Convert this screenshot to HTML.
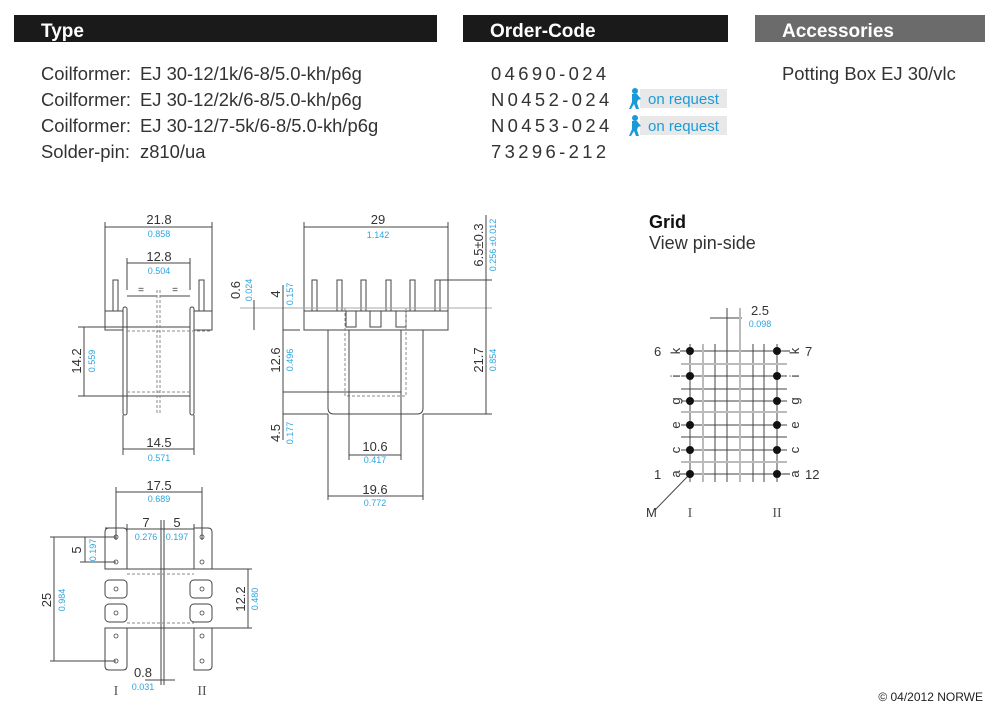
<!DOCTYPE html>
<html><head><meta charset="utf-8"><style>
body{margin:0;background:#fff;width:1000px;height:721px;overflow:hidden;font-family:"Liberation Sans",sans-serif}
svg{position:absolute;left:0;top:0}
</style></head><body>
<svg width="1000" height="721" viewBox="0 0 1000 721" font-family="Liberation Sans, sans-serif">
<rect x="14" y="15" width="423" height="27" fill="#1a1a1a"/>
<rect x="463" y="15" width="265" height="27" fill="#1a1a1a"/>
<rect x="755" y="15" width="230" height="27" fill="#6b6b6b"/>
<g fill="#fff" font-weight="bold" font-size="19">
<text x="41" y="37">Type</text><text x="490" y="37">Order-Code</text><text x="782" y="37">Accessories</text></g>
<g fill="#333" font-size="18.4">
<text x="41" y="80">Coilformer:</text><text x="140" y="80">EJ 30-12/1k/6-8/5.0-kh/p6g</text>
<text x="41" y="106">Coilformer:</text><text x="140" y="106">EJ 30-12/2k/6-8/5.0-kh/p6g</text>
<text x="41" y="132">Coilformer:</text><text x="140" y="132">EJ 30-12/7-5k/6-8/5.0-kh/p6g</text>
<text x="41" y="158">Solder-pin:</text><text x="140" y="158">z810/ua</text>
<g letter-spacing="3.4"><text x="491" y="80">04690-024</text><text x="491" y="106">N0452-024</text><text x="491" y="132">N0453-024</text><text x="491" y="158">73296-212</text></g>
<text x="782" y="80">Potting Box EJ 30/vlc</text>
</g>
<g>
<rect x="640" y="89" width="87" height="19" fill="#e8e8e8"/><text x="648" y="104" font-size="15" fill="#1a9bd7">on request</text>
<rect x="640" y="116" width="87" height="19" fill="#e8e8e8"/><text x="648" y="131" font-size="15" fill="#1a9bd7">on request</text>
<g fill="#1a9bd7"><circle cx="635" cy="91" r="3"/><path d="M632 94h5l4 5-3 1-1 3 2 6h-3l-2-5-3 5h-2l3-7z"/>
<circle cx="635" cy="118" r="3"/><path d="M632 121h5l4 5-3 1-1 3 2 6h-3l-2-5-3 5h-2l3-7z"/></g>
</g>
<text x="649" y="228" font-size="18" font-weight="bold" fill="#111">Grid</text>
<text x="649" y="249" font-size="18" fill="#333">View pin-side</text>
<text x="983" y="701" font-size="12" fill="#222" text-anchor="end">© 04/2012 NORWE</text>

<g stroke="#444" stroke-width="1" fill="none">
<path d="M105 222V311M212 222V311M105 227H212M127 258V290M190 258V290M127 263H190"/>
<path d="M127 296H157M160 296H190"/>
<rect x="113" y="280" width="5" height="31"/><rect x="199" y="280" width="5" height="31"/>
<rect x="105" y="311" width="18" height="19"/><rect x="194" y="311" width="18" height="19"/>
<rect x="123" y="307" width="4" height="108" rx="2"/><rect x="190" y="307" width="4" height="108" rx="2"/>
<path d="M78 327H190M78 396H190M127 327V396M123 415V455M194 415V455M123 449H194M84 327V396"/>
<path d="M127 331H212M127 392H190M157 290V415M160 290V415" stroke-dasharray="3 2" stroke="#888"/>
<path d="M304 222V311M448 222V311M304 227H448"/>
<rect x="312" y="280" width="5" height="31"/><rect x="337" y="280" width="5" height="31"/><rect x="361" y="280" width="5" height="31"/><rect x="386" y="280" width="5" height="31"/><rect x="410" y="280" width="5" height="31"/><rect x="435" y="280" width="5" height="31"/>
<path d="M304 311H448V330H304Z"/>
<path d="M346 311V327H356V311M370 311V327H381V311M396 311V327H406V311"/>
<path d="M328 330V408Q328 414 334 414H417Q423 414 423 408V330M349 330V392H401V330"/>
<path d="M345 308H406V396H345Z" stroke-dasharray="3 2" stroke="#888"/>
<path d="M240 308H492" stroke="#aaa"/>
<path d="M437 280H492M283 330H300M283 392H349M283 414H328M423 414H492M486 215V414M283 285V440"/>
<path d="M349 392V460M401 392V460M349 455H401M328 414V500M423 414V500M328 496H423M254 300V330"/>
<path d="M116 487V540M202 487V540M116 492H202"/>
<path d="M105 528H123Q127 528 127 532V569H105V532Q105 528 109 528Z"/>
<path d="M105 628H127V666Q127 670 123 670H109Q105 670 105 666Z"/>
<rect x="105" y="580" width="22" height="18" rx="4"/><rect x="105" y="604" width="22" height="18" rx="4"/>
<path d="M194 528H208Q212 528 212 532V569H194Z"/>
<path d="M194 628H212V666Q212 670 208 670H194Z"/>
<rect x="190" y="580" width="22" height="18" rx="4"/><rect x="190" y="604" width="22" height="18" rx="4"/>
<path d="M127 540V560M194 540V560M127 636V648M194 636V648"/>
<path d="M127 569H252M127 628H252M161 520V685M164 520V685M127 524V534M194 524V534M127 529H194"/>
<path d="M127 574H194M127 623H194" stroke-dasharray="3 2" stroke="#888"/>
<path d="M50 537H116M50 661H116M54 537V661M80 562H116M85 537V562M248 569V628M145 680H175"/>
<g stroke-width="0.8"><circle cx="116" cy="537" r="2"/><circle cx="116" cy="562" r="2"/><circle cx="116" cy="589" r="2"/><circle cx="116" cy="613" r="2"/><circle cx="116" cy="636" r="2"/><circle cx="116" cy="661" r="2"/>
<circle cx="202" cy="537" r="2"/><circle cx="202" cy="562" r="2"/><circle cx="202" cy="589" r="2"/><circle cx="202" cy="613" r="2"/><circle cx="202" cy="636" r="2"/><circle cx="202" cy="661" r="2"/></g>
<path d="M681 351H787M681 376H787M681 389H787M681 401H787M681 425H787M681 437H787M681 450H787M681 474H787M690 344V482M715 344V482M727 308V482M753 344V482M764 344V482M777 344V482M710 318H742M690 474L655 510"/>
<path d="M703 344V482M740 308V482M681 364H787M681 412H787M681 462H787" stroke="#bbb" stroke-width="2"/>
</g>
<g fill="#111"><circle cx="690" cy="351" r="4"/><circle cx="690" cy="376" r="4"/><circle cx="690" cy="401" r="4"/><circle cx="690" cy="425" r="4"/><circle cx="690" cy="450" r="4"/><circle cx="690" cy="474" r="4"/>
<circle cx="777" cy="351" r="4"/><circle cx="777" cy="376" r="4"/><circle cx="777" cy="401" r="4"/><circle cx="777" cy="425" r="4"/><circle cx="777" cy="450" r="4"/><circle cx="777" cy="474" r="4"/></g>
<g font-size="13" fill="#333" text-anchor="middle">
<text x="159" y="224">21.8</text><text x="159" y="261">12.8</text><text x="159" y="447">14.5</text>
<text x="378" y="224">29</text><text x="375" y="451">10.6</text><text x="375" y="494">19.6</text>
<text x="159" y="490">17.5</text><text x="146" y="527">7</text><text x="177" y="527">5</text><text x="143" y="677">0.8</text>
<text x="760" y="315">2.5</text>
<text x="141" y="293" font-size="10">=</text><text x="175" y="293" font-size="10">=</text>
<text transform="translate(81,361) rotate(-90)">14.2</text>
<text transform="translate(240,290) rotate(-90)">0.6</text>
<text transform="translate(280,294) rotate(-90)">4</text>
<text transform="translate(280,360) rotate(-90)">12.6</text>
<text transform="translate(280,433) rotate(-90)">4.5</text>
<text transform="translate(483,360) rotate(-90)">21.7</text>
<text transform="translate(483,245) rotate(-90)">6.5±0.3</text>
<text transform="translate(51,600) rotate(-90)">25</text>
<text transform="translate(81,550) rotate(-90)">5</text>
<text transform="translate(245,599) rotate(-90)">12.2</text>
</g>
<g font-size="9" fill="#2aa6e0" text-anchor="middle">
<text x="159" y="237">0.858</text><text x="159" y="274">0.504</text><text x="159" y="461">0.571</text>
<text x="378" y="238">1.142</text><text x="375" y="463">0.417</text><text x="375" y="506">0.772</text>
<text x="159" y="502">0.689</text><text x="146" y="540">0.276</text><text x="177" y="540">0.197</text><text x="143" y="690">0.031</text>
<text x="760" y="327">0.098</text>
<text transform="translate(95,361) rotate(-90)">0.559</text>
<text transform="translate(252,290) rotate(-90)">0.024</text>
<text transform="translate(293,294) rotate(-90)">0.157</text>
<text transform="translate(293,360) rotate(-90)">0.496</text>
<text transform="translate(293,433) rotate(-90)">0.177</text>
<text transform="translate(496,360) rotate(-90)">0.854</text>
<text transform="translate(496,245) rotate(-90)">0.256 ±0.012</text>
<text transform="translate(65,600) rotate(-90)">0.984</text>
<text transform="translate(96,550) rotate(-90)">0.197</text>
<text transform="translate(258,599) rotate(-90)">0.480</text>
</g>
<g font-size="14" fill="#555" font-family="Liberation Serif, serif" text-anchor="middle">
<text x="116" y="695">I</text><text x="202" y="695">II</text><text x="690" y="517">I</text><text x="777" y="517">II</text></g>
<g font-size="13" fill="#333">
<text x="654" y="356">6</text><text x="654" y="479">1</text><text x="805" y="356">7</text><text x="805" y="479">12</text><text x="646" y="517">M</text>
<g text-anchor="middle">
<text transform="translate(676,351) rotate(-90)" dy="4">k</text><text transform="translate(676,376) rotate(-90)" dy="4">i</text><text transform="translate(676,401) rotate(-90)" dy="4">g</text><text transform="translate(676,425) rotate(-90)" dy="4">e</text><text transform="translate(676,450) rotate(-90)" dy="4">c</text><text transform="translate(676,474) rotate(-90)" dy="4">a</text>
<text transform="translate(795,351) rotate(-90)" dy="4">k</text><text transform="translate(795,376) rotate(-90)" dy="4">i</text><text transform="translate(795,401) rotate(-90)" dy="4">g</text><text transform="translate(795,425) rotate(-90)" dy="4">e</text><text transform="translate(795,450) rotate(-90)" dy="4">c</text><text transform="translate(795,474) rotate(-90)" dy="4">a</text>
</g>
<path d="M680 351H686M680 474H686M783 351H790M783 474H790" stroke="#333"/>
</g>
</svg>
</body></html>
